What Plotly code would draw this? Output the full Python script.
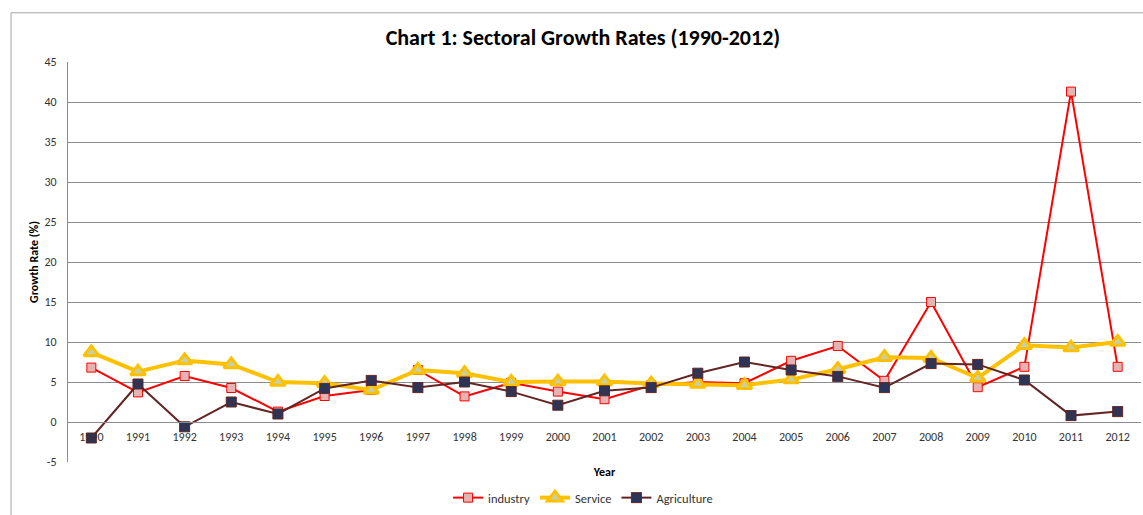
import plotly.graph_objects as go

years = list(range(1990, 2013))
industry = [6.8, 3.7, 5.75, 4.25, 1.3, 3.25, 4.0, 6.5, 3.2, 4.9, 3.8, 2.85,
            4.6, 5.0, 4.85, 7.65, 9.5, 5.15, 15.0, 4.35, 6.9, 41.3, 6.9]
service = [8.7, 6.3, 7.7, 7.2, 5.0, 4.85, 4.0, 6.5, 6.1, 5.0, 5.05, 5.05,
           4.8, 4.75, 4.6, 5.3, 6.6, 8.1, 8.0, 5.5, 9.6, 9.3, 10.0]
agriculture = [-2.0, 4.75, -0.6, 2.5, 1.0, 4.2, 5.2, 4.3, 5.0, 3.8, 2.1, 3.9,
               4.3, 6.1, 7.5, 6.5, 5.7, 4.3, 7.3, 7.2, 5.25, 0.8, 1.3]
y_ticks = [-5, 0, 5, 10, 15, 20, 25, 30, 35, 40, 45]
y_tick_labels = ["-5", "0", "5", "10", "15", "20", "25", "30", "35", "40", "45"]

FONT = "Carlito, Lato, sans-serif"
GRID = "#8c8c8c"

fig = go.Figure()
fig.add_trace(go.Scatter(
    x=years, y=industry, name="industry", mode="lines+markers",
    line=dict(color="#ff0000", width=2),
    marker=dict(symbol="square", size=9, color="#e6b3b3",
                line=dict(color="#ff0000", width=1)),
))
fig.add_trace(go.Scatter(
    x=years, y=service, name="Service", mode="lines+markers",
    line=dict(color="#ffc000", width=4),
    marker=dict(symbol="triangle-up", size=13, color="#c9cfa5",
                line=dict(color="#ffc000", width=3)),
))
fig.add_trace(go.Scatter(
    x=years, y=agriculture, name="Agriculture", mode="lines+markers",
    line=dict(color="#632523", width=2),
    marker=dict(symbol="square-x", size=10, color="#1f3864",
                line=dict(color="#632523", width=1)),
))

# outer chart border
fig.add_shape(type="line", xref="paper", yref="paper",
              x0=-0.0531, x1=-0.0531, y0=1.123, y1=-0.2,
              line=dict(color="#a6a6a6", width=1))
fig.add_shape(type="line", xref="paper", yref="paper",
              x0=-0.0531, x1=1.01, y0=1.123, y1=1.123,
              line=dict(color="#a6a6a6", width=1))

fig.update_layout(
    width=1143, height=515,
    margin=dict(l=68, r=2, t=62, b=53),
    paper_bgcolor="white", plot_bgcolor="white",
    font=dict(family=FONT, size=12, color="#333333"),
    title=dict(text="<b>Chart 1: Sectoral Growth Rates (1990-2012)</b>",
               x=0.51, xanchor="center", xref="container",
               y=1 - 37 / 515, yref="container", yanchor="middle",
               font=dict(family=FONT, size=22, color="#000000")),
    showlegend=True,
    legend=dict(orientation="h", x=0.48, xanchor="center", y=-0.1275,
                yanchor="bottom", font=dict(family=FONT, size=12.5, color="#333333"),
                itemwidth=30, tracegroupgap=0),
    xaxis=dict(
        range=[1989.5, 2012.5], tickmode="array", tickvals=years,
        ticktext=[str(y) for y in years],
        anchor="free", position=0.1, automargin=False,
        showgrid=False, zeroline=False, showline=True, linecolor=GRID,
        ticks="", ticklabelstandoff=4,
        tickfont=dict(family=FONT, size=12, color="#333333"),
        title=dict(text="<b>Year</b>", font=dict(family=FONT, size=12, color="#000000"),
                   standoff=24),
    ),
    yaxis=dict(
        range=[-5, 45], tickmode="array", tickvals=y_ticks, ticktext=y_tick_labels,
        automargin=False,
        showgrid=True, gridcolor=GRID, gridwidth=1, zeroline=False,
        showline=True, linecolor=GRID, mirror=False, ticks="",
        ticklabelstandoff=8,
        tickfont=dict(family=FONT, size=12, color="#333333"),
        title=dict(text="<b>Growth Rate (%)</b>",
                   font=dict(family=FONT, size=12, color="#000000"), standoff=3),
    ),
)

fig.write_html("out.html", config={"displayModeBar": False},
               post_script="document.body.style.margin='0px';")
